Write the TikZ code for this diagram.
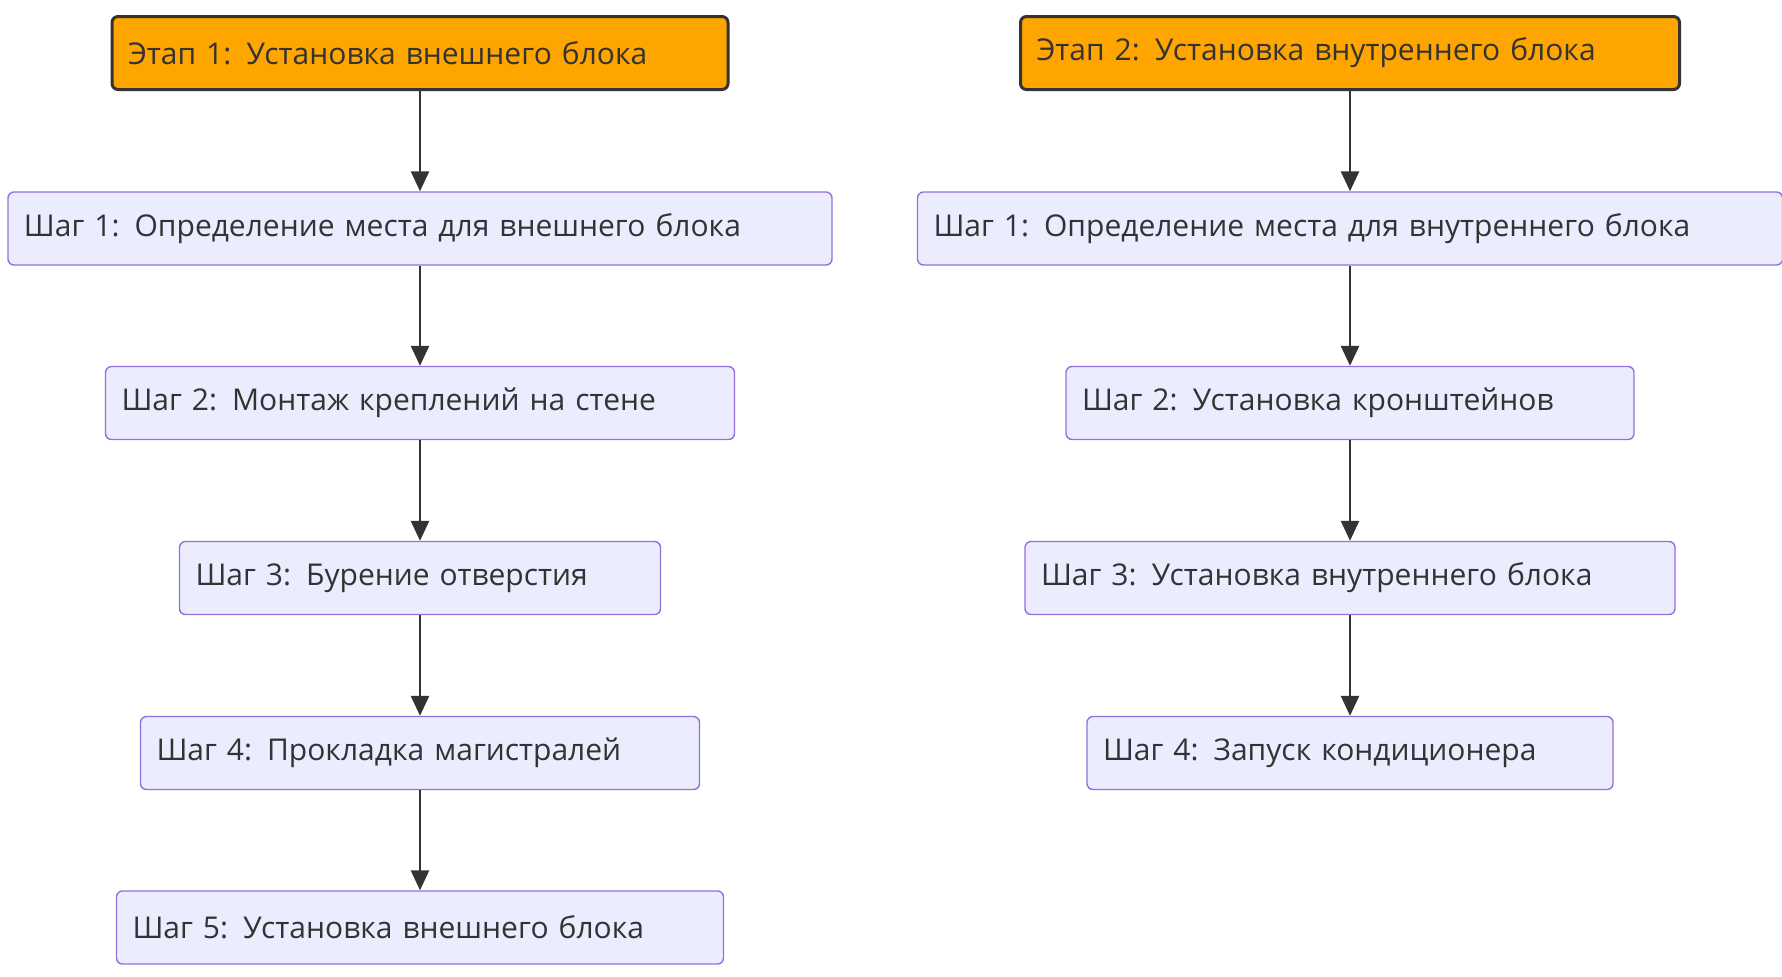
\documentclass[tikz,border=0pt]{standalone}
\usepackage{fontspec}
\setmainfont{Open Sans}
\usetikzlibrary{arrows.meta}
\definecolor{stagefill}{HTML}{FFA500}
\definecolor{stepfill}{HTML}{ECECFF}
\definecolor{stepline}{HTML}{9370DB}
\definecolor{ink}{HTML}{333333}
\tikzset{
	stage/.style={draw=ink, line width=1.5pt, fill=stagefill, rounded corners=3pt, minimum height=36.5pt, text=ink, font=\fontsize{15}{18}\selectfont, align=left, inner xsep=8pt},
	stepbox/.style={draw=stepline, line width=0.7pt, fill=stepfill, rounded corners=3pt, minimum height=36.5pt, text=ink, font=\fontsize{15}{18}\selectfont, align=left, inner xsep=8pt},
	flow/.style={draw=ink, line width=1.3pt, -{Triangle[length=10pt, width=9pt]}}
}
\begin{document}
\begin{tikzpicture}[x=0.5pt, y=-0.5pt]
	\useasboundingbox (0,0) rectangle (1782,976);
	\node (s1) at (420,53) [stage, text width=292pt] {Этап 1: Установка внешнего блока};
	\node (a1) at (420,228.5) [stepbox, text width=396pt] {Шаг 1: Определение места для внешнего блока};
	\node (a2) at (420,403) [stepbox, text width=298.5pt] {Шаг 2: Монтаж креплений на стене};
	\node (a3) at (420,578) [stepbox, text width=224.5pt] {Шаг 3: Бурение отверстия};
	\node (a4) at (420,753) [stepbox, text width=263.5pt] {Шаг 4: Прокладка магистралей};
	\node (a5) at (420,927.5) [stepbox, text width=287.5pt] {Шаг 5: Установка внешнего блока};
	\draw[flow] (s1) to (a1);
	\draw[flow] (a1) to (a2);
	\draw[flow] (a2) to (a3);
	\draw[flow] (a3) to (a4);
	\draw[flow] (a4) to (a5);
	
	\node (s2) at (1350,53) [stage, text width=313.5pt] {Этап 2: Установка внутреннего блока};
	\node (b1) at (1350,228.5) [stepbox, text width=416.5pt] {Шаг 1: Определение места для внутреннего блока};
	\node (b2) at (1350,403) [stepbox, text width=268pt] {Шаг 2: Установка кронштейнов};
	\node (b3) at (1350,578) [stepbox, text width=309pt] {Шаг 3: Установка внутреннего блока};
	\node (b4) at (1350,753) [stepbox, text width=247pt] {Шаг 4: Запуск кондиционера};
	\draw[flow] (s2) to (b1);
	\draw[flow] (b1) to (b2);
	\draw[flow] (b2) to (b3);
	\draw[flow] (b3) to (b4);
\end{tikzpicture}
\end{document}
